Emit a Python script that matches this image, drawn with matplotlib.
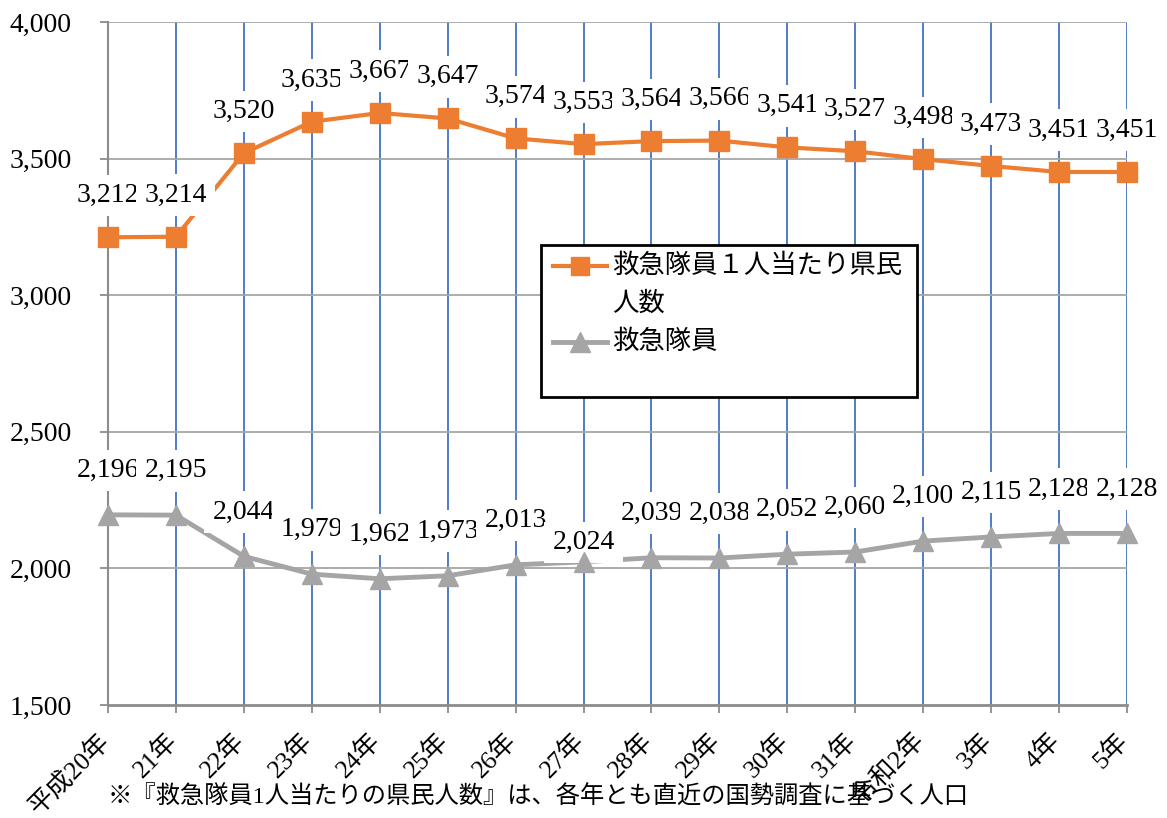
import matplotlib
matplotlib.use("Agg")
import matplotlib.pyplot as plt
from matplotlib.lines import Line2D
from matplotlib.patches import Rectangle
import matplotlib.transforms as mtransforms

categories = ["平成20年", "21年", "22年", "23年", "24年", "25年", "26年", "27年",
              "28年", "29年", "30年", "31年", "令和2年", "3年", "4年", "5年"]
per_member = [3212, 3214, 3520, 3635, 3667, 3647, 3574, 3553, 3564, 3566,
              3541, 3527, 3498, 3473, 3451, 3451]
members = [2196, 2195, 2044, 1979, 1962, 1973, 2013, 2024, 2039, 2038,
           2052, 2060, 2100, 2115, 2128, 2128]
y_ticks = [1500, 2000, 2500, 3000, 3500, 4000]
legend_labels = ["救急隊員１人当たり県民\n人数", "救急隊員"]
footnote = "※『救急隊員1人当たりの県民人数』は、各年とも直近の国勢調査に基づく人口"

ORANGE = "#ED7D31"
GRAY = "#A5A5A5"
BLUE = "#4472C4"
AXC = "#8C8C8C"
FONT = ["Liberation Serif", "Noto Sans CJK JP", "DejaVu Sans"]
plt.rcParams["font.family"] = FONT

W, H = 1167, 818
fig = plt.figure(figsize=(W / 100, H / 100), dpi=100)
ax = fig.add_axes([108 / W, 1 - 705 / H, (1127 - 108) / W, (705 - 22) / H])

x = list(range(len(categories)))
ax.set_xlim(0, len(categories) - 1)
ax.set_ylim(1500, 4000)

for xi in x[1:]:
    ax.axvline(xi, color=BLUE, lw=1.3, zorder=1)
for yv in y_ticks[1:]:
    ax.axhline(yv, color="#A6A6A6", lw=1.3, zorder=1)

for s in ["top", "right"]:
    ax.spines[s].set_visible(False)
ax.spines["left"].set_color(AXC)
ax.spines["left"].set_linewidth(1.5)
ax.spines["bottom"].set_color(AXC)
ax.spines["bottom"].set_linewidth(2)

ax.set_yticks(y_ticks, [f"{v:,}" for v in y_ticks])
ax.set_xticks(x, categories, rotation=45, ha="right", va="top")
ax.tick_params(axis="both", colors=AXC, length=6, width=1.3,
               labelcolor="black")
ax.tick_params(axis="y", pad=20, labelsize=20)
ax.tick_params(axis="x", pad=11, labelsize=18.5)
shift = mtransforms.ScaledTranslation(6 / 100, 0, fig.dpi_scale_trans)
for lab in ax.get_xticklabels():
    lab.set_transform(lab.get_transform() + shift)

ax.plot(x, per_member, color=ORANGE, lw=3, zorder=3, clip_on=False)
ax.plot(x, members, color=GRAY, lw=3.5, zorder=3, clip_on=False)
ax.plot(x, per_member, ls="none", marker="s", ms=14, color=ORANGE,
        zorder=6, clip_on=False)
ax.plot(x, members, ls="none", marker="^", ms=15, color=GRAY,
        zorder=6, clip_on=False)

bbox = dict(boxstyle="square,pad=0.3", fc="white", ec="none")
for i, v in enumerate(per_member):
    ax.annotate(f"{v:,}", (i, v), xytext=(0, 30), textcoords="offset points",
                ha="center", va="center", fontsize=20, bbox=bbox,
                zorder=4 + i * 0.01, annotation_clip=False)
special = {7: 14}
for i, v in enumerate(members):
    off = special.get(i, 32)
    ax.annotate(f"{v:,}", (i, v), xytext=(0, off), textcoords="offset points",
                ha="center", va="center", fontsize=20, bbox=bbox,
                zorder=4 + i * 0.01, annotation_clip=False)

# legend (manual, figure coordinates)
fig.patches.append(Rectangle((541 / W, 1 - 397 / H), (917 - 541) / W, (397 - 245) / H,
                             transform=fig.transFigure, fc="white", ec="black",
                             lw=2, zorder=10))
fig.lines.append(Line2D([553 / W, 607 / W], [1 - 266 / H, 1 - 266 / H],
                        transform=fig.transFigure, color=ORANGE, lw=3,
                        zorder=11))
fig.lines.append(Line2D([580 / W], [1 - 266 / H], transform=fig.transFigure,
                        color=ORANGE, marker="s", ms=13, zorder=11))
fig.lines.append(Line2D([553 / W, 607 / W], [1 - 342 / H, 1 - 342 / H],
                        transform=fig.transFigure, color=GRAY, lw=3.5,
                        zorder=11))
fig.lines.append(Line2D([580 / W], [1 - 342 / H], transform=fig.transFigure,
                        color=GRAY, marker="^", ms=14, zorder=11))
fig.text(612 / W, 1 - 266 / H, legend_labels[0].split("\n")[0], fontsize=19,
         va="center", ha="left", zorder=12)
fig.text(612 / W, 1 - 304 / H, legend_labels[0].split("\n")[1], fontsize=19,
         va="center", ha="left", zorder=12)
fig.text(612 / W, 1 - 342 / H, legend_labels[1], fontsize=19,
         va="center", ha="left", zorder=12)

fig.text(108 / W, 1 - 797 / H, footnote, fontsize=17.5, va="center", ha="left")

fig.savefig("out.png", dpi=100)
